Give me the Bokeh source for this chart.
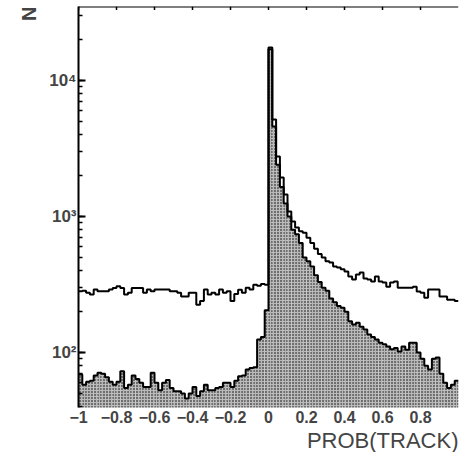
import numpy as np
from bokeh.plotting import figure
from bokeh.models import FixedTicker, Title, Range1d, Span
from bokeh.embed import file_html
from bokeh.resources import INLINE

# ---- data ----
bin_start = -1.0
bin_width = 0.02

upper_left = [282, 285, 275, 267, 291, 282, 282, 282, 291, 299,
              308, 299, 267, 275, 299, 299, 299, 275, 291, 282,
              291, 291, 291, 291, 282, 282, 275, 259, 259, 275,
              275, 225, 240, 291, 267, 275, 267, 291, 275, 282,
              240, 270, 290, 275, 300, 291, 316, 310, 320, 316]
upper_right = [17500, 5160, 2760, 1940, 1450, 1090, 920, 830, 780, 760,
               700, 640, 580, 530, 500, 470, 460, 430, 422, 410,
               394, 362, 344, 375, 388, 350, 344, 333, 362, 333,
               327, 305, 327, 333, 300, 300, 300, 300, 305, 281,
               275, 253, 291, 291, 291, 258, 258, 245, 245, 240]

fill_left = [69, 58, 61, 62, 68, 71, 70, 66, 61, 58,
             61, 73, 55, 58, 68, 64, 60, 56, 56, 71,
             60, 53, 60, 63, 55, 52, 52, 50, 46, 50,
             56, 48, 52, 58, 53, 53, 55, 56, 60, 60,
             56, 62, 67, 68, 75, 77, 78, 125, 130, 205]
fill_right = [17000, 4600, 2400, 1650, 1250, 1000, 800, 740, 640, 500,
              470, 430, 370, 330, 300, 285, 250, 235, 220, 214,
              200, 170, 161, 166, 155, 148, 136, 130, 125, 118,
              115, 111, 106, 108, 102, 111, 105, 118, 118, 100,
              90, 80, 75, 90, 92, 70, 60, 55, 58, 62]

upper_counts = upper_left + upper_right
filled_counts = fill_left + fill_right

x_ticks = [-1, -0.8, -0.6, -0.4, -0.2, 0, 0.2, 0.4, 0.6, 0.8]
x_tick_labels = ["\u22121", "\u22120.8", "\u22120.6", "\u22120.4", "\u22120.2",
                 "0", "0.2", "0.4", "0.6", "0.8"]
y_ticks = [100, 1000, 10000]
y_tick_labels = ["10\u00b2", "10\u00b3", "10\u2074"]
y_min, y_max = 39.5, 35000
x_title = "PROB(TRACK)"
y_title = "N"

# ---- geometry derived from data ----
n = len(upper_counts)
lefts = bin_start + bin_width * np.arange(n)
rights = lefts + bin_width
edges = np.append(lefts, rights[-1])
up_step = np.append(upper_counts, upper_counts[-1])
fl_step = np.append(filled_counts, filled_counts[-1])

FONT = "Liberation Sans"

p = figure(width=460, height=452, x_range=Range1d(-1, 1), y_range=Range1d(y_min, y_max),
           y_axis_type="log", output_backend="svg", toolbar_location=None)
p.min_border_left = 78
p.min_border_right = 2
p.min_border_top = 6
p.min_border_bottom = 44
p.outline_line_color = None
p.grid.visible = False
p.background_fill_color = "white"
p.border_fill_color = "white"

p.quad(left=lefts, right=rights, bottom=1, top=filled_counts,
       fill_color="#b8b8b8", line_color=None,
       hatch_pattern="dot", hatch_color="black", hatch_scale=3, hatch_weight=1.8)
p.step(x=edges, y=fl_step, mode="after", line_width=2, line_color="black")
p.step(x=edges, y=up_step, mode="after", line_width=2, line_color="black")

# top frame line with small inward ticks
p.add_layout(Span(location=y_max, dimension="width", line_color="black", line_width=2))
p.segment(x0=x_ticks, x1=x_ticks, y0=[y_max] * len(x_ticks), y1=[y_max / 1.06] * len(x_ticks),
          line_color="black", line_width=1.5)

xa = p.xaxis[0]
xa.ticker = FixedTicker(ticks=x_ticks)
xa.major_label_overrides = dict(zip(x_ticks, x_tick_labels))
xa.axis_line_color = None
xa.major_tick_line_color = None
xa.minor_tick_line_color = None
xa.major_tick_out = 0
xa.major_tick_in = 0
xa.minor_tick_out = 0
xa.minor_tick_in = 0
xa.major_label_text_font = FONT
xa.major_label_text_font_style = "bold"
xa.major_label_text_font_size = "16px"
xa.major_label_standoff = 3

ya = p.yaxis[0]
ya.major_label_overrides = dict(zip(y_ticks, y_tick_labels))
ya.axis_line_width = 2
ya.major_tick_in = 7
ya.major_tick_out = 0
ya.minor_tick_in = 4
ya.minor_tick_out = 0
ya.major_tick_line_width = 2
ya.minor_tick_line_width = 1.5
ya.major_label_text_font = FONT
ya.major_label_text_font_style = "bold"
ya.major_label_text_font_size = "17px"
ya.major_label_standoff = 2

p.add_layout(Title(text=x_title, align="right", text_font=FONT, standoff=0,
                   text_font_size="22px", text_font_style="normal"), "below")
p.add_layout(Title(text=y_title, align="right", text_font=FONT, standoff=14,
                   text_font_size="20px", text_font_style="bold"), "left")

open("out.html", "w").write(file_html(p, INLINE))
